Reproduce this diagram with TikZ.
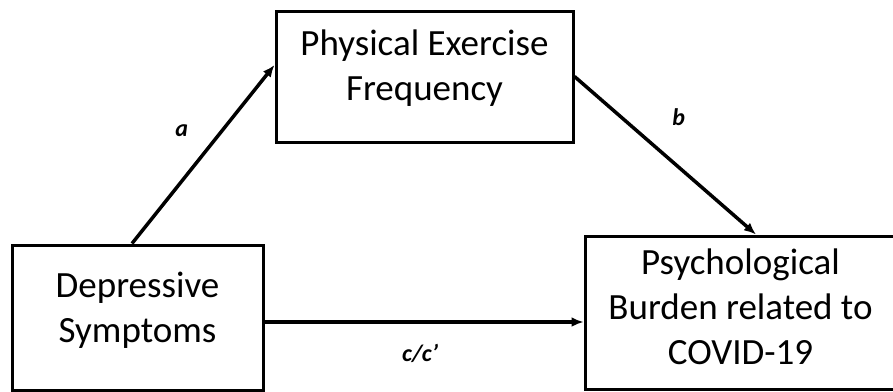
\documentclass[tikz,border=0pt]{standalone}
\usepackage{fontspec}
\setmainfont{Carlito}
\usetikzlibrary{shapes, arrows}
\usetikzlibrary{arrows,calc,arrows.meta}
\usetikzlibrary{positioning}

\begin{document}
\begin{tikzpicture}[x=1pt,y=-1pt]

		    \tikzset{
		        varbox/.style={draw,line width=3pt,align=center,font=\fontsize{37}{45}\selectfont,inner sep=0pt},
		        pathlbl/.style={font=\fontsize{24}{28}\selectfont\bfseries\itshape,inner sep=2pt}
		    }
		    \useasboundingbox (0,0) rectangle (893,391);

		    \node(dep) [varbox,minimum width=251pt,minimum height=145pt,text depth=20pt] at (137.5,317.5) {Depressive\\Symptoms};
		    
		    \node(pbc) [varbox,minimum width=311pt,minimum height=153pt,text depth=12pt,right=319pt of dep,yshift=5pt] {Psychological\\Burden related to\\COVID-19};
		    
		    \node(pef) [varbox,minimum width=297pt,minimum height=131pt,text depth=22pt] at (424.5,76.5) {Physical Exercise\\Frequency};
		    
		    \draw[-{Latex[length=12pt,width=10pt]},line width=3.5pt] ([xshift=-5.5pt]dep.north) -- ([yshift=11.5pt]pef.west) node[pathlbl,pos=0.63,left=30pt] (la) {a};
		    \draw[-{Latex[length=12pt,width=10pt]},line width=3.5pt] (pef.east) -- ([xshift=15.5pt]pbc.north) node[pathlbl,pos=0.26,right=47pt] (lb) {b};
		    \draw[-{Latex[length=12pt,width=10pt]},line width=3.5pt] ([yshift=-4.5pt]dep.east) coordinate (cst) -- (cst -| pbc.west) node[pathlbl,midway,below=18pt,xshift=-4pt] (lc) {c/c’};

\end{tikzpicture}
\end{document}
